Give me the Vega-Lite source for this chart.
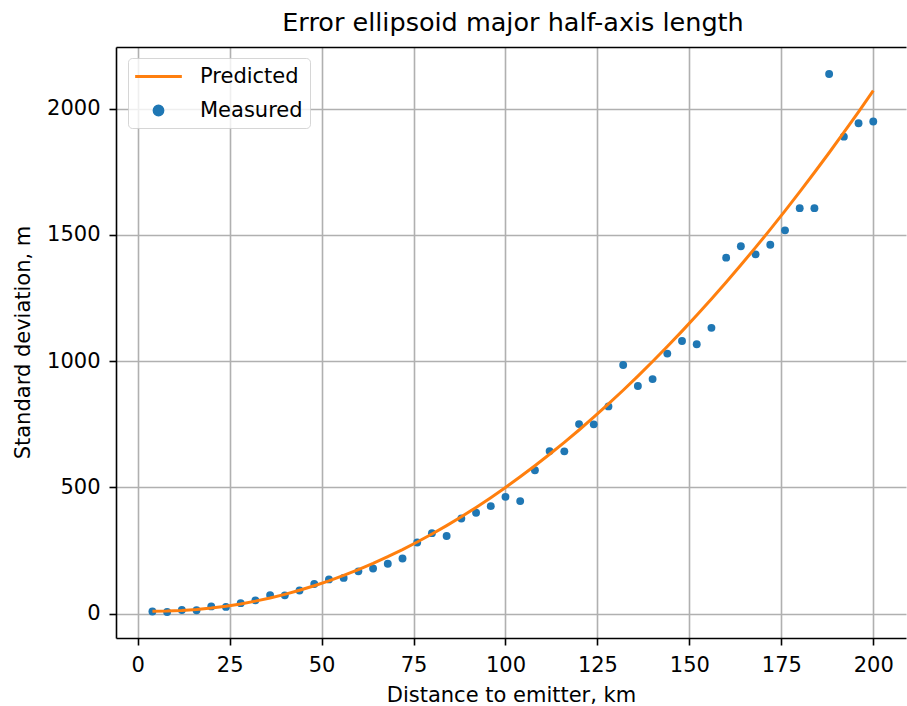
{
  "$schema": "https://vega.github.io/schema/vega-lite/v6.json",
  "width": 790,
  "height": 591,
  "autosize": {"type": "none"},
  "padding": {"left": 116, "top": 47, "right": 1, "bottom": 68},
  "background": "white",
  "title": {
    "text": "Error ellipsoid major half-axis length",
    "font": "DejaVu Sans",
    "fontSize": 25.5,
    "fontWeight": "normal",
    "color": "#000000",
    "baseline": "alphabetic",
    "offset": 16,
    "dy": 25,
    "frame": "group",
    "anchor": "middle",
    "dx": 2
  },
  "data": {
    "values": [
      {"d": 4, "measured": 9, "predicted": 10.0},
      {"d": 8, "measured": 7, "predicted": 10.5},
      {"d": 12, "measured": 15, "predicted": 12.7},
      {"d": 16, "measured": 14, "predicted": 16.7},
      {"d": 20, "measured": 29, "predicted": 22.4},
      {"d": 24, "measured": 27, "predicted": 29.8},
      {"d": 28, "measured": 42, "predicted": 39.0},
      {"d": 32, "measured": 53, "predicted": 49.9},
      {"d": 36, "measured": 74, "predicted": 62.5},
      {"d": 40, "measured": 73, "predicted": 76.9},
      {"d": 44, "measured": 92, "predicted": 93.0},
      {"d": 48, "measured": 118, "predicted": 110.8},
      {"d": 52, "measured": 136, "predicted": 130.3},
      {"d": 56, "measured": 142, "predicted": 151.6},
      {"d": 60, "measured": 168, "predicted": 174.6},
      {"d": 64, "measured": 179, "predicted": 199.3},
      {"d": 68, "measured": 198, "predicted": 225.8},
      {"d": 72, "measured": 219, "predicted": 254.0},
      {"d": 76, "measured": 282, "predicted": 284.0},
      {"d": 80, "measured": 319, "predicted": 315.7},
      {"d": 84, "measured": 308, "predicted": 349.1},
      {"d": 88, "measured": 377, "predicted": 384.2},
      {"d": 92, "measured": 400, "predicted": 421.1},
      {"d": 96, "measured": 426, "predicted": 459.7},
      {"d": 100, "measured": 463, "predicted": 500.0},
      {"d": 104, "measured": 446, "predicted": 542.1},
      {"d": 108, "measured": 568, "predicted": 585.8},
      {"d": 112, "measured": 644, "predicted": 631.4},
      {"d": 116, "measured": 643, "predicted": 678.6},
      {"d": 120, "measured": 751, "predicted": 727.6},
      {"d": 124, "measured": 750, "predicted": 778.3},
      {"d": 128, "measured": 821, "predicted": 830.8},
      {"d": 132, "measured": 985, "predicted": 885.0},
      {"d": 136, "measured": 902, "predicted": 940.9},
      {"d": 140, "measured": 929, "predicted": 998.6},
      {"d": 144, "measured": 1030, "predicted": 1057.9},
      {"d": 148, "measured": 1080, "predicted": 1119.0},
      {"d": 152, "measured": 1067, "predicted": 1181.9},
      {"d": 156, "measured": 1132, "predicted": 1246.4},
      {"d": 160, "measured": 1410, "predicted": 1312.7},
      {"d": 164, "measured": 1455, "predicted": 1380.7},
      {"d": 168, "measured": 1423, "predicted": 1450.5},
      {"d": 172, "measured": 1461, "predicted": 1522.0},
      {"d": 176, "measured": 1518, "predicted": 1595.3},
      {"d": 180, "measured": 1606, "predicted": 1670.3},
      {"d": 184, "measured": 1606, "predicted": 1747.0},
      {"d": 188, "measured": 2137, "predicted": 1825.3},
      {"d": 192, "measured": 1889, "predicted": 1905.5},
      {"d": 196, "measured": 1942, "predicted": 1987.4},
      {"d": 200, "measured": 1949, "predicted": 2071.0}
    ]
  },
  "layer": [
    {
      "mark": {"type": "point", "filled": true, "size": 62, "opacity": 1, "strokeWidth": 0},
      "encoding": {
        "x": {
          "field": "d",
          "type": "quantitative",
          "scale": {"domain": [-5.9, 208.9], "nice": false, "zero": false},
          "axis": {
            "orient": "bottom",
            "values": [0, 25, 50, 75, 100, 125, 150, 175, 200],
            "title": "Distance to emitter, km",
            "titleY": 63,
            "titleBaseline": "alphabetic",
            "labelPadding": 9
          }
        },
        "y": {
          "field": "measured",
          "type": "quantitative",
          "scale": {"domain": [-96, 2244], "nice": false, "zero": false},
          "axis": {
            "orient": "left",
            "values": [0, 500, 1000, 1500, 2000],
            "format": "d",
            "title": "Standard deviation, m",
            "titleX": -86.5,
            "titleY": 295,
            "titleAngle": -90,
            "titleAlign": "center",
            "titleBaseline": "alphabetic",
            "labelPadding": 9
          }
        },
        "color": {
          "datum": "Measured",
          "type": "nominal",
          "scale": {"domain": ["Predicted", "Measured"], "range": ["#ff7f0e", "#1f77b4"]},
          "legend": {
            "title": null,
            "orient": "none",
            "legendX": 12,
            "legendY": 11,
            "padding": 7,
            "fillColor": "rgba(255,255,255,0.8)",
            "strokeColor": "rgba(204,204,204,0.8)",
            "cornerRadius": 4,
            "symbolSize": 400,
            "symbolStrokeWidth": 3,
            "symbolOffset": 12,
            "labelOffset": 30,
            "rowPadding": 12,
            "labelFont": "DejaVu Sans",
            "labelFontSize": 21,
            "labelColor": "#000000",
            "encode": {
              "symbols": {
                "update": {
                  "shape": {"signal": "datum.value === 'Predicted' ? 'M-2.335,0L2.335,0' : 'M-0.44,0A0.44,0.44,0,1,1,0.44,0A0.44,0.44,0,1,1,-0.44,0Z'"},
                  "fill": {"signal": "datum.value === 'Predicted' ? 'transparent' : '#1f77b4'"},
                  "stroke": {"signal": "datum.value === 'Predicted' ? '#ff7f0e' : 'transparent'"},
                  "opacity": {"value": 1}
                }
              }
            }
          }
        }
      }
    },
    {
      "mark": {"type": "line", "strokeWidth": 3},
      "encoding": {
        "x": {
          "field": "d",
          "type": "quantitative",
          "axis": {
            "orient": "top",
            "title": null,
            "labels": false,
            "ticks": false,
            "grid": false,
            "domain": true
          }
        },
        "y": {
          "field": "predicted",
          "type": "quantitative",
          "axis": {
            "orient": "left",
            "values": [0, 500, 1000, 1500, 2000],
            "format": "d",
            "title": "Standard deviation, m",
            "titleX": -86.5,
            "titleY": 295,
            "titleAngle": -90,
            "titleAlign": "center",
            "titleBaseline": "alphabetic",
            "labelPadding": 9
          }
        },
        "color": {
          "datum": "Predicted",
          "type": "nominal",
          "legend": {
            "title": null,
            "orient": "none",
            "legendX": 12,
            "legendY": 11,
            "padding": 7,
            "fillColor": "rgba(255,255,255,0.8)",
            "strokeColor": "rgba(204,204,204,0.8)",
            "cornerRadius": 4,
            "symbolSize": 400,
            "symbolStrokeWidth": 3,
            "symbolOffset": 12,
            "labelOffset": 30,
            "rowPadding": 12,
            "labelFont": "DejaVu Sans",
            "labelFontSize": 21,
            "labelColor": "#000000",
            "encode": {
              "symbols": {
                "update": {
                  "shape": {"signal": "datum.value === 'Predicted' ? 'M-2.335,0L2.335,0' : 'M-0.44,0A0.44,0.44,0,1,1,0.44,0A0.44,0.44,0,1,1,-0.44,0Z'"},
                  "fill": {"signal": "datum.value === 'Predicted' ? 'transparent' : '#1f77b4'"},
                  "stroke": {"signal": "datum.value === 'Predicted' ? '#ff7f0e' : 'transparent'"},
                  "opacity": {"value": 1}
                }
              }
            }
          }
        }
      }
    }
  ],
  "resolve": {"axis": {"x": "independent"}},
  "config": {
    "view": {"stroke": null},
    "font": "DejaVu Sans",
    "axis": {
      "domainColor": "#000000",
      "domainWidth": 1.6,
      "tickColor": "#000000",
      "tickWidth": 1.6,
      "tickSize": 7,
      "gridColor": "#b0b0b0",
      "gridWidth": 1.6,
      "grid": true,
      "labelFont": "DejaVu Sans",
      "labelFontSize": 21,
      "labelColor": "#000000",
      "labelFlush": false,
      "labelOverlap": false,
      "titleFont": "DejaVu Sans",
      "titleFontSize": 21,
      "titleFontWeight": "normal",
      "titleColor": "#000000"
    }
  }
}
